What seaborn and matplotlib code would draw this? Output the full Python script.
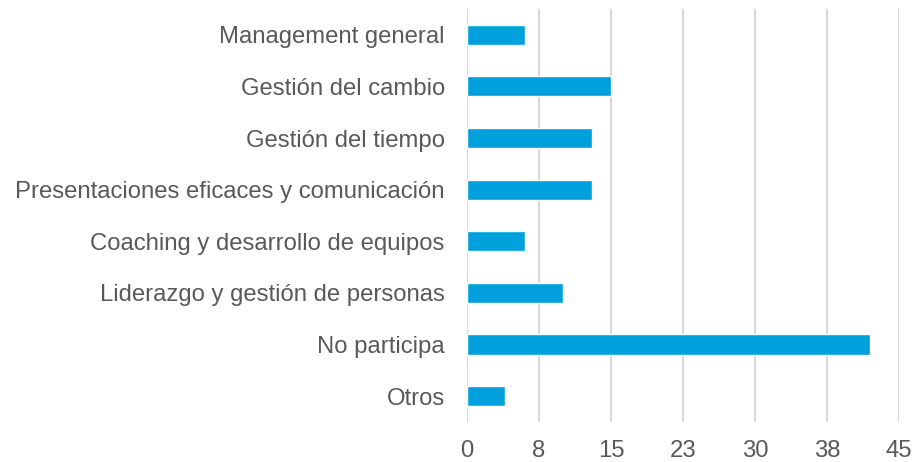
import matplotlib
matplotlib.use('Agg')
import pandas as pd
import seaborn as sns
import matplotlib.pyplot as plt

# Data
categories = [
    'Management general',
    'Gestión del cambio',
    'Gestión del tiempo',
    'Presentaciones eficaces y comunicación',
    'Coaching y desarrollo de equipos',
    'Liderazgo y gestión de personas',
    'No participa',
    'Otros',
]
values = [6, 15, 13, 13, 6, 10, 42, 4]
tick_values = [0, 7.5, 15, 22.5, 30, 37.5, 45]
tick_labels = ['0', '8', '15', '23', '30', '38', '45']

df = pd.DataFrame({'category': categories, 'value': values})

sns.set_theme(style='white')
plt.rcParams['font.family'] = ['Liberation Sans', 'DejaVu Sans']

fig = plt.figure(figsize=(9.14, 4.62), dpi=100)
ax = fig.add_axes([0.511, 0.0866, 0.4727, 0.894])

sns.barplot(data=df, x='value', y='category', orient='h', color='#00A0DC',
            saturation=1, width=0.39, ax=ax, zorder=3)

ax.set_xlim(0, 45)
ax.set_xticks(tick_values)
ax.set_xticklabels(tick_labels)
ax.grid(axis='x', color='#d9d9d9', linewidth=1.5, zorder=0)
ax.set_axisbelow(True)
for s in ax.spines.values():
    s.set_visible(False)

ax.tick_params(axis='y', length=0, pad=16, labelsize=17.2, labelcolor='#595959')
ax.tick_params(axis='x', length=0, pad=13, labelsize=17.2, labelcolor='#595959')
ax.set_xlabel('')
ax.set_ylabel('')

fig.savefig('out.png', dpi=100)
